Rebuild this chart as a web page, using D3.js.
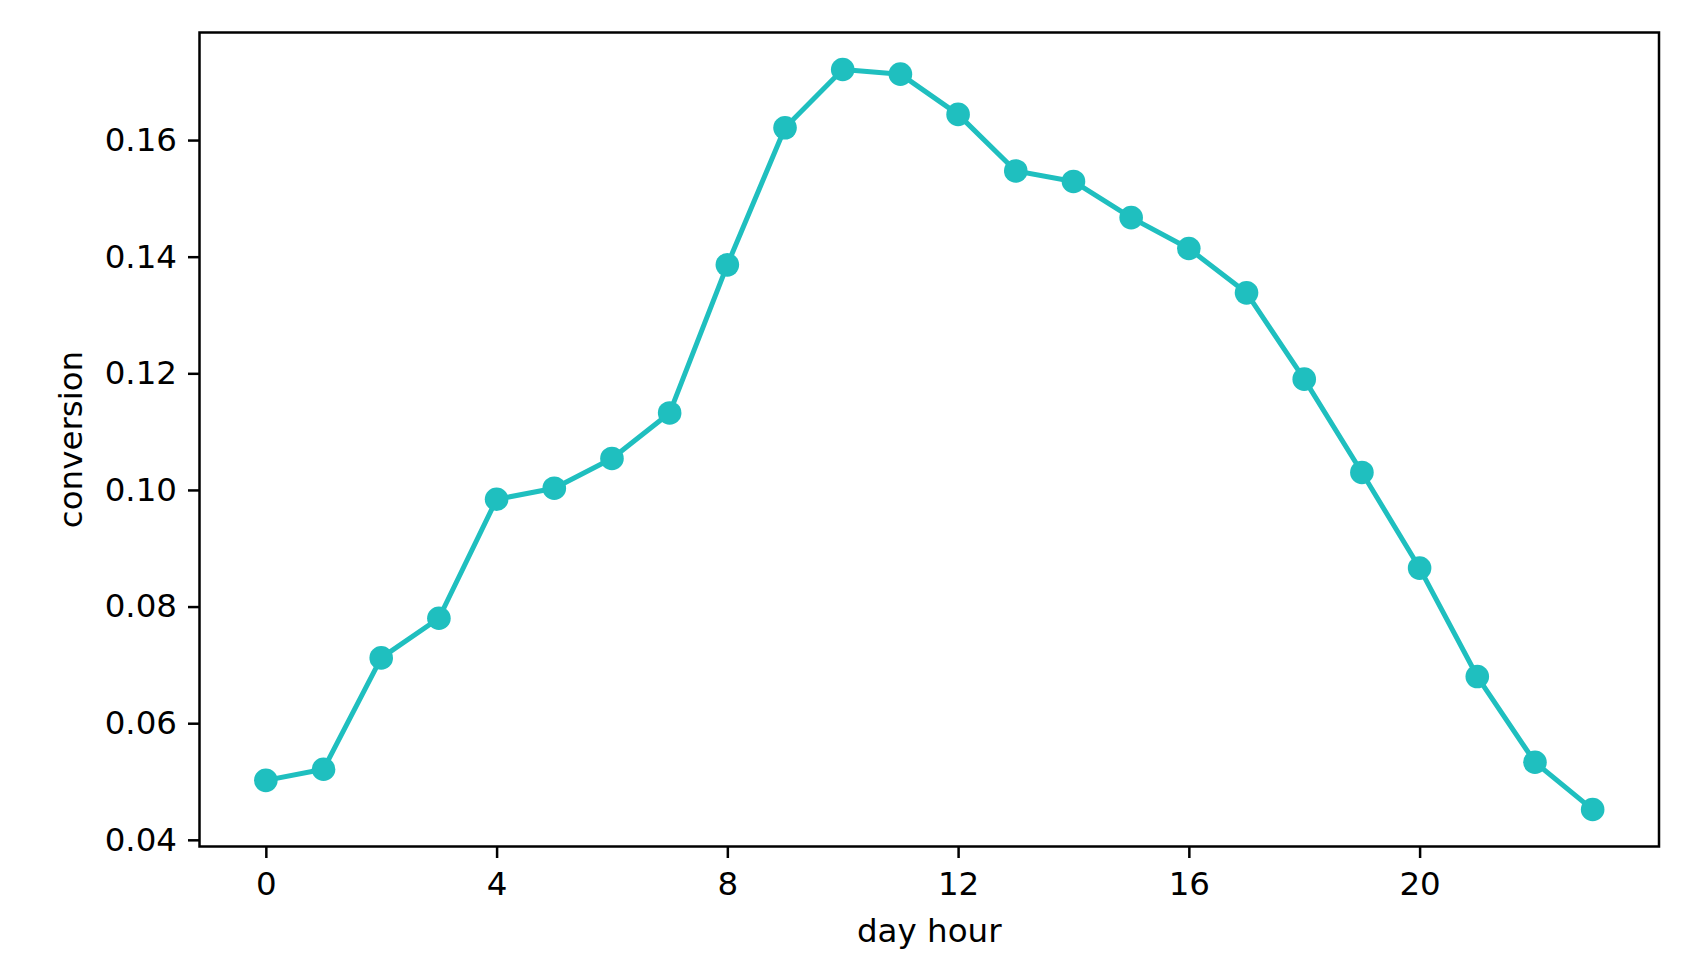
<!DOCTYPE html>
<html>
<head>
<meta charset="utf-8">
<script src="https://cdn.jsdelivr.net/npm/d3@7"></script>
<style>
  html, body { margin: 0; padding: 0; background: #fff; }
  svg { display: block; }
  text { font-family: "DejaVu Sans", sans-serif; fill: #000; }
</style>
</head>
<body>
<svg id="chart" width="1694" height="962"></svg>
<script>
const hours = [0,1,2,3,4,5,6,7,8,9,10,11,12,13,14,15,16,17,18,19,20,21,22,23];
const conversion = [0.0502,0.0521,0.0712,0.0780,0.0984,0.1003,0.1054,0.1132,0.1386,0.1621,0.1721,0.1713,0.1644,0.1547,0.1529,0.1467,0.1414,0.1338,0.1190,0.1030,0.0866,0.0680,0.0533,0.0452];
const xTicks = [0,4,8,12,16,20];
const yTicks = [0.04,0.06,0.08,0.10,0.12,0.14,0.16];
const xLabel = "day hour";
const yLabel = "conversion";

const W = 1694, H = 962;
const plot = { left: 199.5, top: 32.5, right: 1659, bottom: 846.5 };
const color = "#1fbfbf";
const fontSize = 32.5;

const svg = d3.select("#chart");

// matplotlib-like 5% margins
const xMin = d3.min(hours), xMax = d3.max(hours);
const yMin = d3.min(conversion), yMax = d3.max(conversion);
const xPad = (xMax - xMin) * 0.05, yPad = (yMax - yMin) * 0.05;

const x = d3.scaleLinear().domain([xMin - xPad, xMax + xPad]).range([plot.left, plot.right]);
const y = d3.scaleLinear().domain([yMin - yPad, yMax + yPad]).range([plot.bottom, plot.top]);

const xAxis = d3.axisBottom(x).tickValues(xTicks).tickFormat(d3.format("d")).tickSize(11.5).tickPadding(14);
const yAxis = d3.axisLeft(y).tickValues(yTicks).tickFormat(d3.format(".2f")).tickSize(11.5).tickPadding(11);

const gx = svg.append("g").attr("transform", `translate(0,${plot.bottom})`).call(xAxis);
const gy = svg.append("g").attr("transform", `translate(${plot.left},0)`).call(yAxis);
[gx, gy].forEach(g => {
  g.select(".domain").remove();
  g.selectAll(".tick line").attr("stroke", "#000").attr("stroke-width", 2.5);
  g.selectAll(".tick text").attr("font-size", fontSize).attr("font-family", "DejaVu Sans").attr("fill", "#000");
});

// line + markers
const line = d3.line().x((d, i) => x(hours[i])).y(d => y(d));
svg.append("path")
  .datum(conversion)
  .attr("d", line)
  .attr("fill", "none")
  .attr("stroke", color)
  .attr("stroke-width", 5)
  .attr("stroke-linejoin", "round")
  .attr("stroke-linecap", "square");

svg.append("g").selectAll("circle")
  .data(conversion)
  .join("circle")
  .attr("cx", (d, i) => x(hours[i]))
  .attr("cy", d => y(d))
  .attr("r", 11.8)
  .attr("fill", color);

// frame
svg.append("rect")
  .attr("x", plot.left).attr("y", plot.top)
  .attr("width", plot.right - plot.left).attr("height", plot.bottom - plot.top)
  .attr("fill", "none").attr("stroke", "#000").attr("stroke-width", 2.5);

// axis labels
svg.append("text")
  .attr("x", (plot.left + plot.right) / 2)
  .attr("y", 942)
  .attr("text-anchor", "middle")
  .attr("font-size", fontSize)
  .text(xLabel);

svg.append("text")
  .attr("transform", `translate(82,${(plot.top + plot.bottom) / 2}) rotate(-90)`)
  .attr("text-anchor", "middle")
  .attr("font-size", fontSize)
  .text(yLabel);
</script>
</body>
</html>
